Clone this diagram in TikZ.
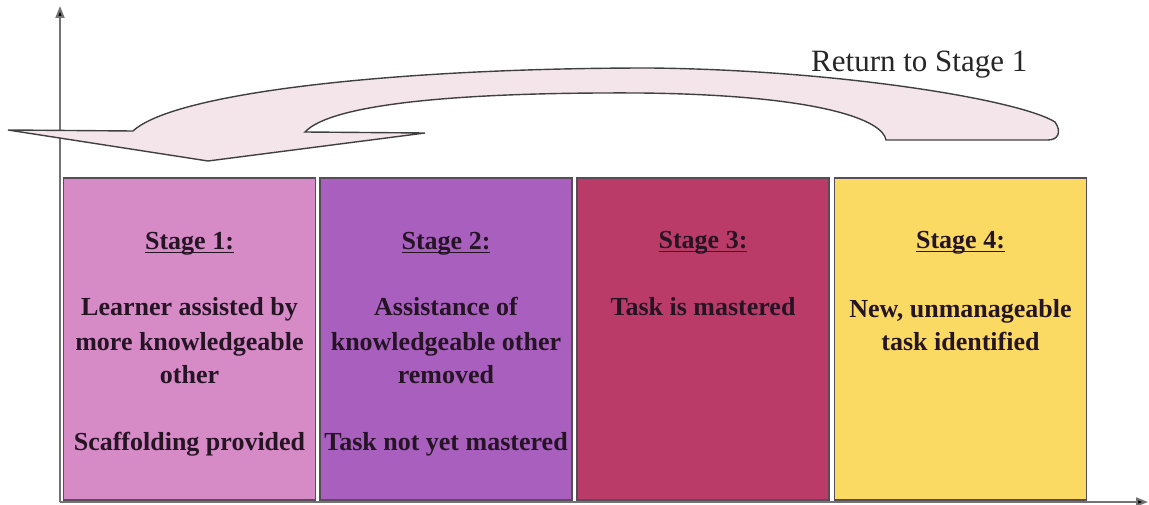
\documentclass[tikz,border=0pt]{standalone}
\usepackage{fontspec}
\setmainfont{Liberation Serif}
\usetikzlibrary{arrows.meta}

\definecolor{stageA}{RGB}{214,138,198}
\definecolor{stageB}{RGB}{169,95,190}
\definecolor{stageC}{RGB}{186,59,104}
\definecolor{stageD}{RGB}{251,218,99}
\definecolor{bandfill}{RGB}{244,229,235}
\definecolor{inkdark}{RGB}{36,20,36}
\definecolor{edgegray}{RGB}{88,76,88}

% underlined stage heading with the rule close under the baseline
\newcommand\stagehead[1]{\setbox0\hbox{#1}\copy0\llap{\rule[-3.5pt]{\wd0}{1.2pt}}}

\tikzset{
  axisline/.style={draw=black!55, line width=2pt, -{Triangle[length=12pt,width=9pt,fill=black]}},
  stagebox/.style={draw=edgegray, line width=1.6pt, inner sep=0pt, minimum width=252pt, minimum height=322pt},
  headtext/.style={anchor=base, inner sep=0pt, text=inkdark, font=\fontsize{26}{34}\selectfont\bfseries},
  bodytext/.style={anchor=base, inner sep=0pt, text=inkdark, font=\fontsize{26}{34}\selectfont\bfseries},
  returnband/.style={draw=black!75, line width=1.4pt, fill=bandfill, line join=miter},
  bandlabel/.style={anchor=base west, inner sep=0pt, text=black!85, font=\fontsize{31}{36}\selectfont}
}

\begin{document}
\begin{tikzpicture}[x=1pt,y=-1pt]
\useasboundingbox (0,0) rectangle (1149,505);

% axes
\coordinate (O) at (60,502);
\coordinate (ytop) at (60,6);
\coordinate (xend) at (1148,502);

% stage columns
\node[stagebox, fill=stageA] (b1) at (189.5,339) {};
\node[stagebox, fill=stageB] (b2) at (446,339) {};
\node[stagebox, fill=stageC] (b3) at (703,339) {};
\node[stagebox, fill=stageD] (b4) at (960.5,339) {};

\draw[axisline] (O) -- (ytop);
\draw[axisline] (O) -- (xend);

% headings
\node[headtext] (h1) at (189.5,250) {\stagehead{Stage 1:}};
\node[headtext] (h2) at (446,250) {\stagehead{Stage 2:}};
\node[headtext] (h3) at (703,249) {\stagehead{Stage 3:}};
\node[headtext] (h4) at (960.5,249) {\stagehead{Stage 4:}};

% stage 1
\node[bodytext] (s1a) at (189.5,316) {Learner assisted by};
\node[bodytext] (s1b) at (189.5,350) {more knowledgeable};
\node[bodytext] (s1c) at (189.5,383) {other};
\node[bodytext] (s1d) at (189.5,450) {Scaffolding provided};

% stage 2
\node[bodytext] (s2a) at (446,316) {Assistance of};
\node[bodytext] (s2b) at (446,350) {knowledgeable other};
\node[bodytext] (s2c) at (446,383) {removed};
\node[bodytext] (s2d) at (446,450) {Task not yet mastered};

% stage 3
\node[bodytext] (s3a) at (703,315) {Task is mastered};

% stage 4
\node[bodytext] (s4a) at (960.5,317) {New, unmanageable};
\node[bodytext] (s4b) at (960.5,350) {task identified};

% curved return arrow
\draw[returnband] (8,130) -- (133,131)
  .. controls (175,92) and (400,68) .. (650,68)
  .. controls (840,70) and (1020,100) .. (1055,122)
  .. controls (1062,132) and (1058,140) .. (1048,140)
  -- (886,140)
  .. controls (883,120) and (820,95) .. (640,93)
  .. controls (450,92) and (330,105) .. (305,132)
  -- (425,133) -- (208,161) -- cycle;

\node[bandlabel] (ret) at (811,72) {Return to Stage 1};
\end{tikzpicture}
\end{document}
